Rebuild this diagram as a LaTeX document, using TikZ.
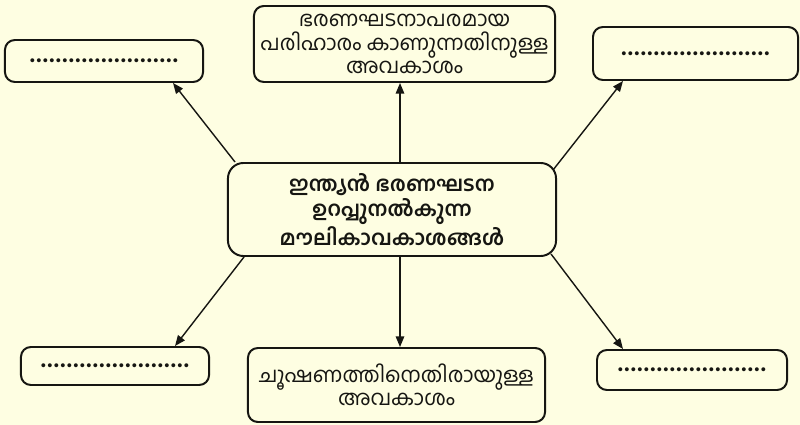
\documentclass[tikz,border=0pt]{standalone}
\usepackage{fontspec}
\usetikzlibrary{arrows.meta,calc}
\newfontfamily\mlfont[Script=Malayalam]{Hind Kochi}
\definecolor{bgcol}{HTML}{FEFEE2}
\definecolor{inkcol}{HTML}{161612}
\newcommand{\dotrow}{\makebox[3.9cm]{\fontsize{18}{18}\selectfont\cleaders\hbox to 0.1625cm{\hss\textbf{.}\hss}\hfill}}
\begin{document}
\begin{tikzpicture}[x=0.025cm,y=-0.025cm,
  box/.style={draw=inkcol,line width=1.4pt,rounded corners=7pt,inner sep=0pt,align=center,
    font=\mlfont\fontsize{15}{16.6}\selectfont,text=inkcol},
  mainbox/.style={box,rounded corners=11pt,font=\mlfont\bfseries\fontsize{14.8}{17.8}\selectfont},
  arr/.style={draw=inkcol,line width=1pt,-{Triangle[length=7.5pt,width=6pt]}}]
\fill[bgcol] (0,0) rectangle (800,425);
\useasboundingbox (0,0) rectangle (800,425);
\node[mainbox,minimum width=8.2cm,minimum height=2.325cm] (c) at (392,209.5)
  {ഇന്ത്യൻ ഭരണഘടന\\ഉറപ്പുനൽകുന്ന\\മൗലികാവകാശങ്ങൾ};
\node[box,minimum width=7.525cm,minimum height=1.9cm] (t) at (404.5,44)
  {ഭരണഘടനാപരമായ\\പരിഹാരം കാണുന്നതിനുള്ള\\അവകാശം};
\node[box,minimum width=7.425cm,minimum height=1.85cm] (b) at (396.5,385)
  {ചൂഷണത്തിനെതിരായുള്ള\\അവകാശം};
\node[box,minimum width=4.95cm,minimum height=1.05cm] (tl) at (104,61) {\dotrow};
\node[box,minimum width=5.125cm,minimum height=1.325cm] (tr) at (695.5,53.5) {\dotrow};
\node[box,minimum width=4.7cm,minimum height=0.95cm] (bl) at (115,366) {\dotrow};
\node[box,minimum width=4.75cm,minimum height=1.0cm] (br) at (692,370) {\dotrow};
\draw[arr] (400,0 |- c.north) -- (400,0 |- t.south);
\draw[arr] (400,0 |- c.south) -- (400,0 |- b.north);
\draw[arr] (235,0 |- c.north) -- (173,0 |- tl.south);
\draw[arr] ($(c.north east)+(-4,8)$) -- (623,0 |- tr.south);
\draw[arr] (244,0 |- c.south) -- (175,0 |- bl.north);
\draw[arr] ($(c.south east)+(-6,-3)$) -- (623,0 |- br.north);
\end{tikzpicture}
\end{document}
